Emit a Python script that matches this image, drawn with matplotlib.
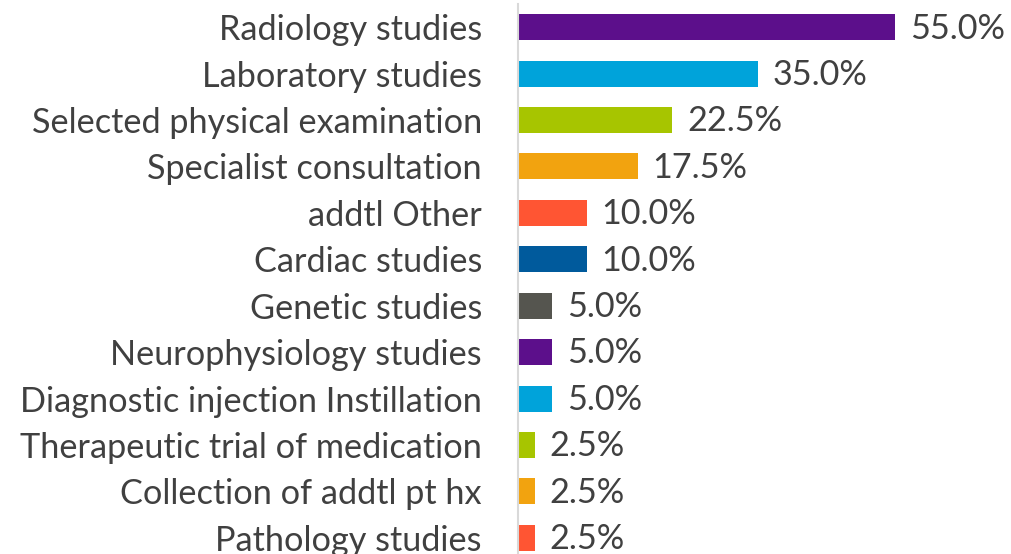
import matplotlib
matplotlib.use("Agg")
import matplotlib.pyplot as plt

categories = [
    "Radiology studies",
    "Laboratory studies",
    "Selected physical examination",
    "Specialist consultation",
    "addtl Other",
    "Cardiac studies",
    "Genetic studies",
    "Neurophysiology studies",
    "Diagnostic injection Instillation",
    "Therapeutic trial of medication",
    "Collection of addtl pt hx",
    "Pathology studies",
]
values = [55.0, 35.0, 22.5, 17.5, 10.0, 10.0, 5.0, 5.0, 5.0, 2.5, 2.5, 2.5]
colors = [
    "#5C0F8B", "#00A3DA", "#A7C500", "#F2A30F", "#FF5533", "#005A9C",
    "#55554F", "#5C0F8B", "#00A3DA", "#A7C500", "#F2A30F", "#FF5533",
]

plt.rcParams["font.family"] = ["Lato", "DejaVu Sans"]
text_color = "#404040"
fs = 24.7

fig = plt.figure(figsize=(10.12, 5.54), dpi=100)
ax = fig.add_axes([518 / 1012, 0, 1 - 518 / 1012, 550 / 554])

pos = list(range(len(categories)))
ax.barh(pos, values, height=0.56, color=colors)

for y, v in zip(pos, values):
    ax.annotate(f"{v:.1f}%", (v, y), xytext=(10.5, -1), textcoords="offset points",
                va="center", ha="left", fontsize=fs, color=text_color)

ax.set_yticks(pos)
ax.set_yticklabels(categories, fontsize=fs, color=text_color)
ax.tick_params(axis="y", length=0, pad=26)
ax.set_xticks([])
ax.set_xlim(0, 72)
ax.set_ylim(11.35, -0.5)

for side in ["top", "right", "bottom"]:
    ax.spines[side].set_visible(False)
ax.spines["left"].set_color("#D9D9D9")
ax.spines["left"].set_linewidth(1.5)

fig.savefig("out.png", dpi=100)
